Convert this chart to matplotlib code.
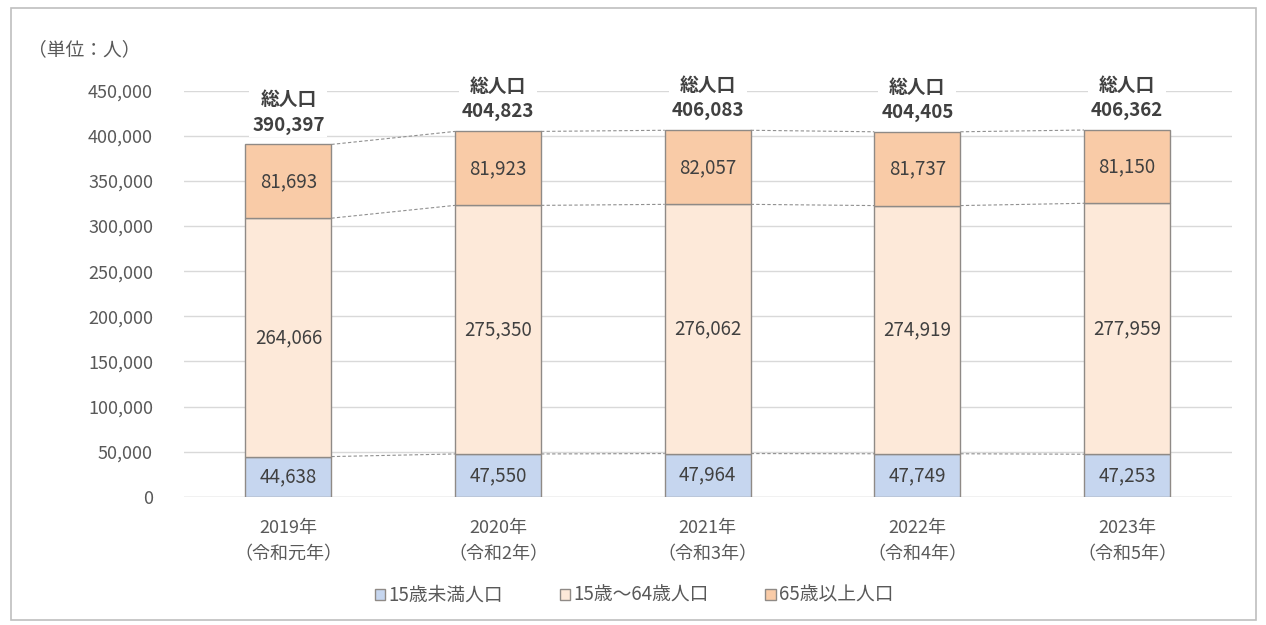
import matplotlib.pyplot as plt
import numpy as np
from matplotlib.patches import Rectangle

plt.rcParams['font.family'] = ['Noto Sans CJK JP', 'DejaVu Sans']

years = ['2019年\n（令和元年）', '2020年\n（令和2年）', '2021年\n（令和3年）',
         '2022年\n（令和4年）', '2023年\n（令和5年）']
under15 = [44638, 47550, 47964, 47749, 47253]
age15_64 = [264066, 275350, 276062, 274919, 277959]
over65 = [81693, 81923, 82057, 81737, 81150]
totals = [390397, 404823, 406083, 404405, 406362]
series_names = ['15歳未満人口', '15歳～64歳人口', '65歳以上人口']
colors = ['#c6d6ef', '#fde9d9', '#f9cba7']

fig = plt.figure(figsize=(12.66, 6.25), dpi=100, facecolor='w')
fig.patches.append(Rectangle((0.009, 0.008), 0.983, 0.98, transform=fig.transFigure,
                             fill=False, edgecolor='#bfbfbf', lw=1.2))
ax = fig.add_axes([0.145, 0.205, 0.828, 0.65])

x = np.arange(len(years))
w = 0.41
bottom = np.zeros(len(years))
for vals, c, name in zip([under15, age15_64, over65], colors, series_names):
    vals = np.array(vals)
    ax.bar(x, vals, w, bottom=bottom, color=c, edgecolor='#8f8a86', lw=1.0,
           label=name, zorder=3)
    for xi, b, v in zip(x, bottom, vals):
        ax.text(xi, b + v / 2, f'{v:,}', ha='center', va='center',
                fontsize=13.5, color='#404040', zorder=5)
    top = bottom + vals
    # dashed connectors between neighbouring bars
    for i in range(len(x) - 1):
        ax.plot([x[i] + w / 2, x[i + 1] - w / 2], [top[i], top[i + 1]],
                ls=(0, (3, 2)), color='#909090', lw=0.8, zorder=2)
    bottom = top

for xi, t in zip(x, totals):
    ax.text(xi, t + 11000, f'総人口\n{t:,}', ha='center', va='bottom',
            fontsize=13.5, fontweight='bold', color='#404040', linespacing=1.4,
            zorder=6, bbox=dict(facecolor='white', edgecolor='none', pad=2))

ax.set_xlim(-0.5, 4.5)
ax.set_ylim(0, 450000)
ax.set_yticks(np.arange(0, 450001, 50000))
ax.set_yticklabels([f'{v:,}' for v in range(0, 450001, 50000)])
ax.set_xticks(x)
ax.set_xticklabels(years, linespacing=1.6)
ax.tick_params(axis='both', length=0, labelsize=13, labelcolor='#595959')
ax.tick_params(axis='y', pad=22)
ax.tick_params(axis='x', pad=16)
ax.grid(axis='y', color='#d9d9d9', lw=1.0, zorder=0)
for s in ax.spines.values():
    s.set_visible(False)
ax.axhline(0, color='#d9d9d9', lw=1.0, zorder=1)

fig.text(0.022, 0.912, '（単位：人）', fontsize=13.5, color='#595959')

leg = ax.legend(loc='upper center', bbox_to_anchor=(0.43, -0.175), ncol=3, frameon=False,
                fontsize=13.5, handlelength=0.55, handleheight=0.55, handletextpad=0.2,
                columnspacing=3.0)
for t in leg.get_texts():
    t.set_color('#595959')

fig.savefig('out.png', dpi=100)
